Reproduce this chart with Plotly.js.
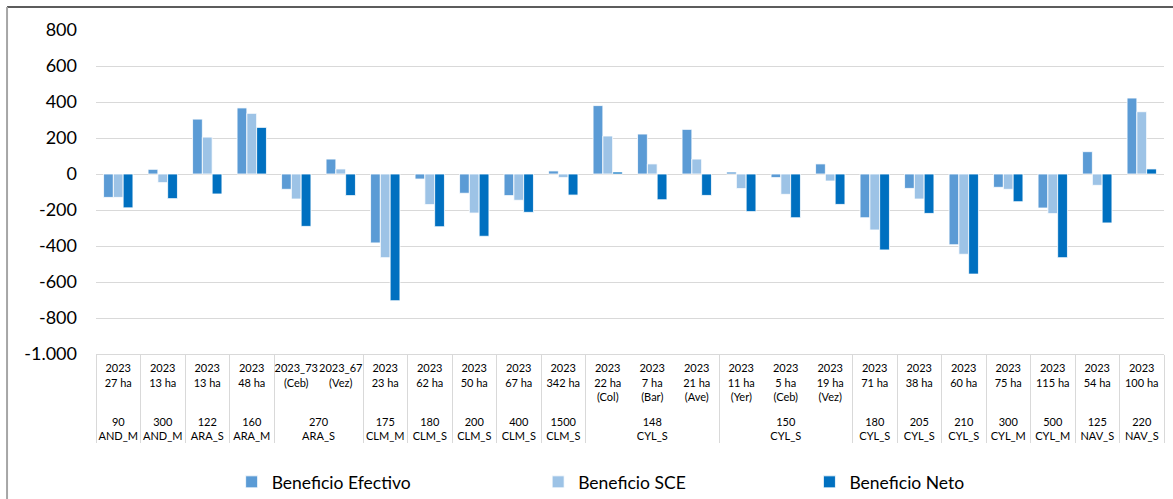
<!DOCTYPE html>
<html>
<head>
<meta charset="utf-8">
<script src="https://cdn.plot.ly/plotly-3.0.1.min.js"></script>
<style>
  html, body { margin: 0; padding: 0; background: #fff; }
  #chart { width: 1173px; height: 499px; }
</style>
</head>
<body>
<div id="chart"></div>
<script>
// categorías: nivel interior (campaña / superficie) y nivel exterior (grupo)
const parcelas = [
    '2023<br>27 ha', '2023<br>13 ha', '2023<br>13 ha', '2023<br>48 ha',
    '2023_73<br>(Ceb)', '2023_67<br>(Vez)', '2023<br>23 ha', '2023<br>62 ha',
    '2023<br>50 ha', '2023<br>67 ha', '2023<br>342 ha',
    '2023<br>22 ha<br>(Col)', '2023<br>7 ha<br>(Bar)', '2023<br>21 ha<br>(Ave)',
    '2023<br>11 ha<br>(Yer)', '2023<br>5 ha<br>(Ceb)', '2023<br>19 ha<br>(Vez)',
    '2023<br>71 ha', '2023<br>38 ha', '2023<br>60 ha', '2023<br>75 ha',
    '2023<br>115 ha', '2023<br>54 ha', '2023<br>100 ha'
];
const grupos = [
    ' <br>90<br>AND_M', ' <br>300<br>AND_M', ' <br>122<br>ARA_S', ' <br>160<br>ARA_M',
    ' <br>270<br>ARA_S', ' <br>270<br>ARA_S', ' <br>175<br>CLM_M', ' <br>180<br>CLM_S',
    ' <br>200<br>CLM_S', ' <br>400<br>CLM_S', ' <br>1500<br>CLM_S',
    ' <br>148<br>CYL_S', ' <br>148<br>CYL_S', ' <br>148<br>CYL_S',
    ' <br>150<br>CYL_S', ' <br>150<br>CYL_S', ' <br>150<br>CYL_S',
    ' <br>180<br>CYL_S', ' <br>205<br>CYL_S', ' <br>210<br>CYL_S', ' <br>300<br>CYL_M',
    ' <br>500<br>CYL_M', ' <br>125<br>NAV_S', ' <br>220<br>NAV_S'
];

// series
const beneficioEfectivo = [-130, 26, 305, 367, -85, 83, -383, -28, -107, -120, 17, 380,
    222, 248, 11, -20, 56, -243, -80, -393, -74, -189, 124, 422];
const beneficioSCE = [-130, -48, 205, 337, -139, 28, -465, -170, -217, -146, -20, 211,
    56, 83, -81, -113, -39, -311, -139, -446, -85, -220, -63, 346];
const beneficioNeto = [-188, -137, -111, 259, -291, -120, -704, -293, -346, -213, -117, 11,
    -143, -119, -209, -243, -169, -422, -219, -556, -154, -465, -272, 28];

// eje y
const yTicks = [-1000, -800, -600, -400, -200, 0, 200, 400, 600, 800];
const yTickText = ['-1.000', '-800', '-600', '-400', '-200', '0', '200', '400', '600', '800'];

const FONT = 'Lato, "Open Sans", sans-serif';

function serie(nombre, valores, color, leyenda) {
    return {
        type: 'bar',
        name: nombre,
        x: [grupos, parcelas],
        y: valores,
        legend: leyenda,
        marker: { color: color, line: { color: '#ffffff', width: 0.8 } },
        hoverinfo: 'y+name'
    };
}

const data = [
    serie('Beneficio Efectivo', beneficioEfectivo, '#5B9BD5', 'legend'),
    serie('Beneficio SCE', beneficioSCE, '#9DC3E6', 'legend2'),
    serie('Beneficio Neto', beneficioNeto, '#0070C0', 'legend3')
];

function leyenda(x) {
    return {
        x: x, y: -0.395, xanchor: 'left', yanchor: 'middle',
        orientation: 'h', bgcolor: 'rgba(0,0,0,0)',
        font: { family: FONT, size: 17.5, color: '#000' },
        itemwidth: 30
    };
}

const layout = {
    width: 1173,
    height: 499,
    paper_bgcolor: '#ffffff',
    plot_bgcolor: '#ffffff',
    font: { family: FONT, color: '#000' },
    margin: { l: 96, r: 9, t: 30, b: 145, pad: 0, autoexpand: false },
    barmode: 'group',
    bargap: 0.34,
    bargroupgap: 0,
    showlegend: true,
    legend: leyenda(0.127),
    legend2: leyenda(0.414),
    legend3: leyenda(0.668),
    xaxis: {
        type: 'multicategory',
        automargin: false,
        tickangle: 0,
        showgrid: false,
        showline: true,
        linecolor: '#d9d9d9',
        linewidth: 1,
        ticks: '',
        ticklabelstandoff: 4,
        showdividers: true,
        dividercolor: '#d9d9d9',
        dividerwidth: 1,
        tickfont: { family: FONT, size: 11, color: '#000' }
    },
    yaxis: {
        range: [-1000, 800],
        automargin: false,
        tickvals: yTicks,
        ticktext: yTickText,
        showgrid: true,
        gridcolor: '#d9d9d9',
        gridwidth: 1,
        zeroline: false,
        showline: false,
        ticks: '',
        ticklabelstandoff: 18,
        tickfont: { family: FONT, size: 18, color: '#000' }
    },
    shapes: [
        { type: 'line', xref: 'paper', yref: 'paper', x0: -0.0833, x1: 1.01, y0: 1.071, y1: 1.071,
          line: { color: '#262626', width: 1.5 } },
        { type: 'line', xref: 'paper', yref: 'paper', x0: -0.0833, x1: -0.0833, y0: 1.071, y1: -0.46,
          line: { color: '#a6a6a6', width: 2 } }
    ]
};

Plotly.newPlot('chart', data, layout, { displayModeBar: false, staticPlot: true });
</script>
</body>
</html>
